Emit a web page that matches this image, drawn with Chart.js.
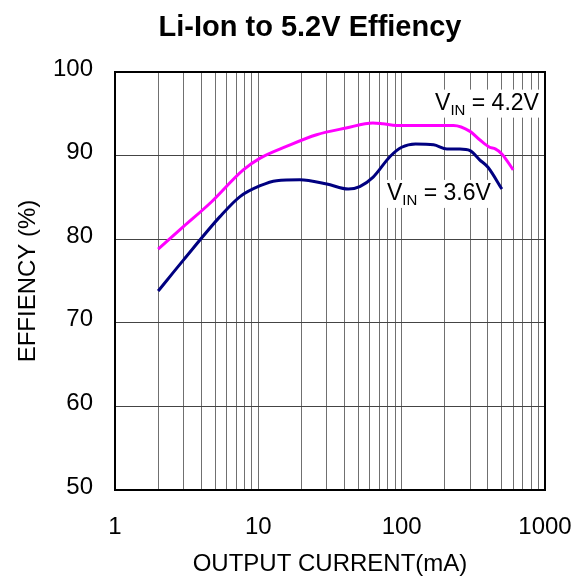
<!DOCTYPE html>
<html>
<head>
<meta charset="utf-8">
<script src="https://cdn.jsdelivr.net/npm/chart.js@4/dist/chart.umd.min.js"></script>
<style>
  body { margin: 0; background: #fff; }
  #wrap { width: 586px; height: 581px; }
</style>
</head>
<body>
<div id="wrap"><canvas id="effChart"></canvas></div>
<script>
// dữ liệu
const current42 = [2, 3, 4.6, 7.85, 10.3, 15.7, 25.5, 41, 63, 74, 92, 230, 300, 350, 410, 450, 500, 600];
const eff42 = [78.8, 81.5, 84.3, 88.3, 89.7, 91.1, 92.5, 93.3, 93.9, 93.8, 93.6, 93.6, 92.9, 91.9, 91.0, 90.8, 90.2, 88.3];

const current36 = [2, 3, 5.4, 7.45, 10.3, 13.4, 19.5, 30, 42.5, 51, 63, 83, 100, 125, 167, 207, 255, 300, 350, 400, 500];
const eff36 = [73.8, 77.5, 82.7, 85.1, 86.4, 87.0, 87.1, 86.6, 86.0, 86.3, 87.4, 89.9, 91.0, 91.4, 91.3, 90.8, 90.8, 90.6, 89.5, 88.6, 86.0];

const chartTitle = "Li-Ion to 5.2V Effiency";
const seriesNames = ["4.2V", "3.6V"];
const xGridValues = [1, 2, 3, 4, 5, 6, 7, 8, 9, 10, 20, 30, 40, 50, 60, 70, 80, 90, 100, 200, 300, 400, 500, 600, 700, 800, 900, 1000];
const xLabelValues = [1, 10, 100, 1000];
const xTickLabels = ["1", "10", "100", "1000"];
const yTickValues = [50, 60, 70, 80, 90, 100];

const FONT = "'Liberation Sans', Arial, sans-serif";

function toPoints(xs, ys) {
  return xs.map((x, i) => ({ x: x, y: ys[i] }));
}

// tiêu đề, khung đen và nhãn V_IN
const framePlugin = {
  id: "frame",
  afterDraw(chart) {
    const { ctx, chartArea: a, scales } = chart;
    ctx.save();
    ctx.fillStyle = "#000";
    ctx.font = "bold 29px " + FONT;
    ctx.textAlign = "center";
    ctx.textBaseline = "alphabetic";
    ctx.fillText(chartTitle, 310, 36);
    ctx.textAlign = "left";

    ctx.strokeStyle = "#000";
    ctx.lineWidth = 2;
    ctx.strokeRect(a.left, a.top, a.right - a.left, a.bottom - a.top);

    const labels = [
      { name: seriesNames[0], x: 171, y: 95.5 },
      { name: seriesNames[1], x: 79, y: 84.7 }
    ];
    labels.forEach(l => {
      const px = scales.x.getPixelForValue(l.x);
      const py = scales.y.getPixelForValue(l.y);
      ctx.font = "23px " + FONT;
      const wV = ctx.measureText("V").width;
      const rest = " = " + l.name;
      const wRest = ctx.measureText(rest).width;
      ctx.font = "15px " + FONT;
      const wSub = ctx.measureText("IN").width;
      const total = wV + wSub + wRest;
      ctx.fillStyle = "#fff";
      ctx.fillRect(px - 3, py - 20, total + 5, 28);
      ctx.fillStyle = "#000";
      ctx.font = "23px " + FONT;
      ctx.fillText("V", px, py);
      ctx.font = "15px " + FONT;
      ctx.fillText("IN", px + wV, py + 5);
      ctx.font = "23px " + FONT;
      ctx.fillText(rest, px + wV + wSub, py);
    });
    ctx.restore();
  }
};

new Chart(document.getElementById("effChart"), {
  type: "line",
  data: {
    datasets: [
      {
        label: seriesNames[0],
        data: toPoints(current42, eff42),
        borderColor: "#ff00ff",
        borderWidth: 3,
        pointRadius: 0,
        cubicInterpolationMode: "monotone"
      },
      {
        label: seriesNames[1],
        data: toPoints(current36, eff36),
        borderColor: "#000080",
        borderWidth: 3,
        pointRadius: 0,
        cubicInterpolationMode: "monotone"
      }
    ]
  },
  options: {
    responsive: true,
    maintainAspectRatio: false,
    animation: false,
    events: [],
    layout: { padding: { left: 0, right: 41, top: 72, bottom: 0 } },
    plugins: {
      legend: { display: false },
      tooltip: { enabled: false }
    },
    scales: {
      x: {
        type: "logarithmic",
        min: 1,
        max: 1000,
        afterBuildTicks: scale => {
          scale.ticks = xGridValues.map(v => ({ value: v }));
        },
        afterFit: scale => {
          scale.height = 91;
          scale.paddingLeft = 0;
          scale.paddingRight = 0;
        },
        ticks: {
          autoSkip: false,
          maxRotation: 0,
          padding: 23,
          color: "#000",
          font: { family: FONT, size: 24 },
          callback: value => {
            const i = xLabelValues.indexOf(value);
            return i >= 0 ? xTickLabels[i] : "";
          }
        },
        grid: { color: "#707070", lineWidth: 1, drawTicks: false },
        border: { display: false },
        title: {
          display: true,
          text: "OUTPUT CURRENT(mA)",
          color: "#000",
          font: { family: FONT, size: 24 },
          padding: { top: 0, bottom: 2 }
        }
      },
      y: {
        min: 50,
        max: 100,
        afterBuildTicks: scale => {
          scale.ticks = yTickValues.map(v => ({ value: v }));
        },
        afterFit: scale => { scale.width = 115; },
        ticks: {
          padding: 22,
          labelOffset: -3,
          color: "#000",
          font: { family: FONT, size: 24 }
        },
        grid: { color: "#444", lineWidth: 1, drawTicks: false },
        border: { display: false },
        title: {
          display: true,
          text: "EFFIENCY (%)",
          color: "#000",
          font: { family: FONT, size: 24 },
          padding: { top: 14, bottom: 0 }
        }
      }
    }
  },
  plugins: [framePlugin]
});
</script>
</body>
</html>
